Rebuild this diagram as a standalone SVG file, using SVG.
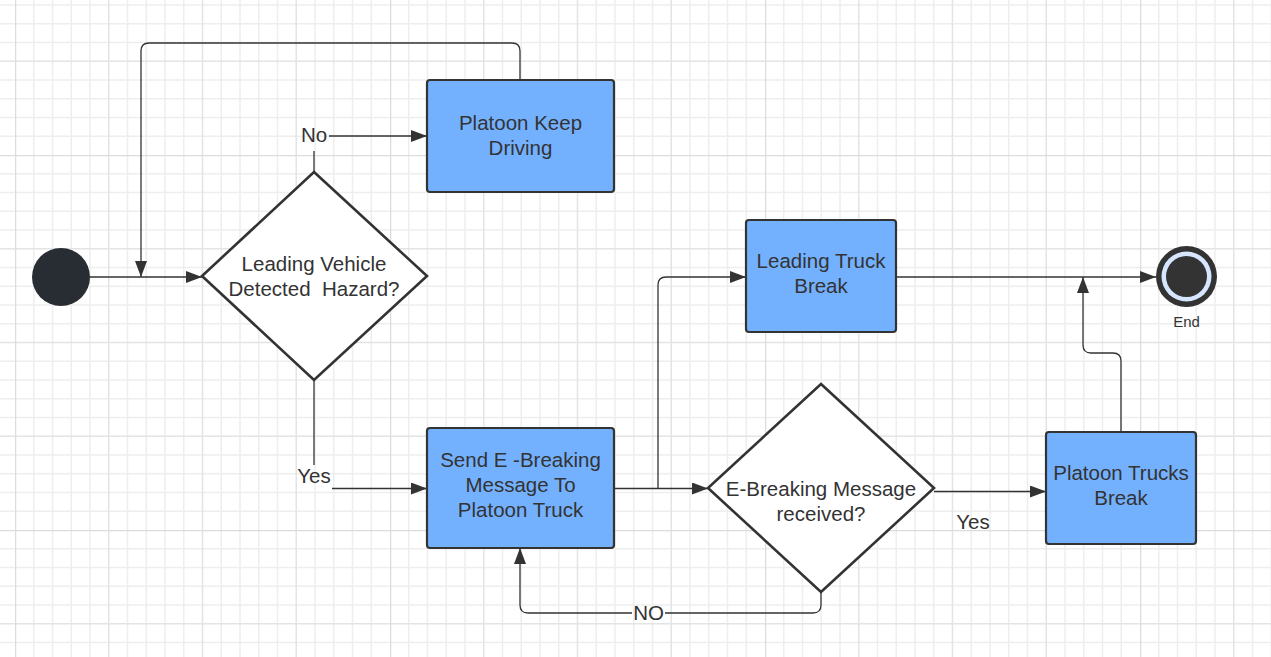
<svg xmlns="http://www.w3.org/2000/svg" width="1271" height="657" viewBox="0 0 1271 657">
<style>
.box{fill:#73b1ff;stroke:#333;stroke-width:2.2}
.dia{fill:#fff;stroke:#333;stroke-width:2.6}
.lbl{font-family:"Liberation Sans",Arial,sans-serif;font-size:20.5px;fill:#333;text-anchor:middle}
.edge{fill:none;stroke:#333;stroke-width:1.3}
</style>
<defs>
<pattern id="grid" patternUnits="userSpaceOnUse" x="15" y="155" width="375" height="375">
<path d="M18.75 0V375M37.5 0V375M56.25 0V375M75 0V375M112.5 0V375M131.25 0V375M150 0V375M168.75 0V375M206.25 0V375M225 0V375M243.75 0V375M262.5 0V375M300 0V375M318.75 0V375M337.5 0V375M356.25 0V375M0 18.75H375M0 37.5H375M0 56.25H375M0 75H375M0 112.5H375M0 131.25H375M0 150H375M0 168.75H375M0 206.25H375M0 225H375M0 243.75H375M0 262.5H375M0 300H375M0 318.75H375M0 337.5H375M0 356.25H375" stroke="#eeeeee" stroke-width="1.5"/>
<path d="M93.75 0V375M187.5 0V375M281.25 0V375M0 93.75H375M0 187.5H375M0 281.25H375" stroke="#e4e4e4" stroke-width="1.5"/>
<path d="M0 0V375M0 0H375" stroke="#dcdcdc" stroke-width="2.5"/>
</pattern>
<marker id="arr" viewBox="0 0 16 12" refX="16" refY="6" markerWidth="16" markerHeight="12" markerUnits="userSpaceOnUse" orient="auto">
<path d="M0 0L16 6L0 12Z" fill="#333"/>
</marker>
</defs>
<rect width="1271" height="657" fill="#fff"/>
<rect width="1271" height="657" fill="url(#grid)"/>

<g id="connectors">
<path class="edge" d="M520 80V51Q520 43 512 43H149Q141 43 141 51V277" marker-end="url(#arr)"/>
<path class="edge" d="M90 277H202" marker-end="url(#arr)"/>
<path class="edge" d="M314 172V151"/>
<path class="edge" d="M329 136H427" marker-end="url(#arr)"/>
<path class="edge" d="M314 380V465"/>
<path class="edge" d="M332 488.5H427" marker-end="url(#arr)"/>
<path class="edge" d="M614 488.5H708" marker-end="url(#arr)"/>
<path class="edge" d="M658 488.5V285Q658 277 666 277H746" marker-end="url(#arr)"/>
<path class="edge" d="M934 491.5H1046" marker-end="url(#arr)"/>
<path class="edge" d="M896 277H1156" marker-end="url(#arr)"/>
<path class="edge" d="M1121 432V361Q1121 353 1113 353H1091Q1083 353 1083 345V277" marker-end="url(#arr)"/>
<path class="edge" d="M821 592V605Q821 613 813 613H665"/>
<path class="edge" d="M632 613H528Q520 613 520 605V548" marker-end="url(#arr)"/>
</g>

<g id="start"><circle cx="61" cy="277" r="29" fill="#282c33"/></g>

<g id="decision1">
<polygon class="dia" points="314,172 427,276 314,380 202,276"/>
<text class="lbl" x="314" y="271">Leading Vehicle</text>
<text class="lbl" x="314" y="295.5" xml:space="preserve">Detected  Hazard?</text>
</g>

<g id="keepDriving">
<rect class="box" x="427" y="80" width="187" height="112" rx="3"/>
<text class="lbl" x="520.5" y="130">Platoon Keep</text>
<text class="lbl" x="520.5" y="154.5">Driving</text>
</g>

<g id="sendMessage">
<rect class="box" x="427" y="428" width="187" height="120" rx="3"/>
<text class="lbl" x="520.5" y="467">Send E -Breaking</text>
<text class="lbl" x="520.5" y="492">Message To</text>
<text class="lbl" x="520.5" y="517">Platoon Truck</text>
</g>

<g id="leadingBreak">
<rect class="box" x="746" y="220" width="150" height="112" rx="3"/>
<text class="lbl" x="821" y="268">Leading Truck</text>
<text class="lbl" x="821" y="293">Break</text>
</g>

<g id="decision2">
<polygon class="dia" points="821,384 934,488 821,592 708,488"/>
<text class="lbl" x="821" y="496">E-Breaking Message</text>
<text class="lbl" x="821" y="521">received?</text>
</g>

<g id="trucksBreak">
<rect class="box" x="1046" y="432" width="150" height="112" rx="3"/>
<text class="lbl" x="1121" y="480">Platoon Trucks</text>
<text class="lbl" x="1121" y="505">Break</text>
</g>

<g id="end">
<circle cx="1186.5" cy="276.5" r="30.5" fill="#333"/>
<circle cx="1186.5" cy="276.5" r="25" fill="#d6e6ff"/>
<circle cx="1186.5" cy="276.5" r="20.5" fill="#333"/>
<text x="1186.5" y="327" font-family="Liberation Sans, Arial, sans-serif" font-size="15" fill="#333" text-anchor="middle">End</text>
</g>

<g id="labels">
<text class="lbl" x="314" y="142">No</text>
<text class="lbl" x="314" y="483">Yes</text>
<text class="lbl" x="973" y="529">Yes</text>
<text class="lbl" x="648.5" y="620">NO</text>
</g>
</svg>
